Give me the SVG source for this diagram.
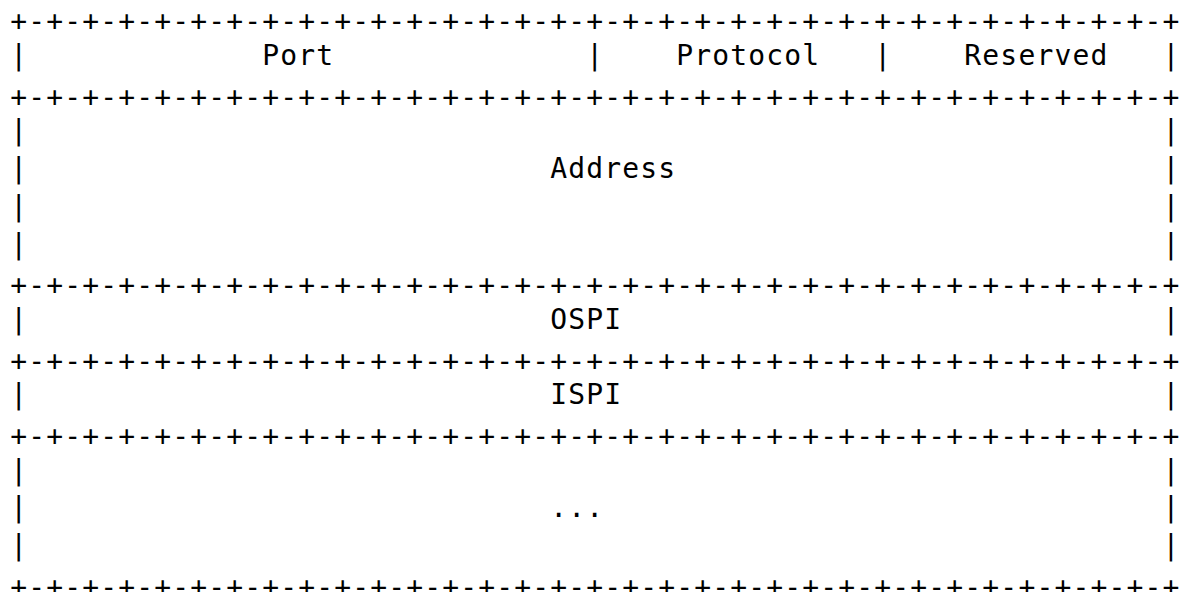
<svg xmlns="http://www.w3.org/2000/svg" width="1182" height="592" viewBox="0 0 1182 592">
<style>
text{font-family:"DejaVu Sans Mono","Liberation Mono",monospace;font-size:28px;letter-spacing:1.144px;fill:#000;white-space:pre}
</style>
<rect width="1182" height="592" fill="#fff"/>
<g id="connectors">
<text x="10.3" y="31.3" xml:space="preserve">+-+-+-+-+-+-+-+-+-+-+-+-+-+-+-+-+-+-+-+-+-+-+-+-+-+-+-+-+-+-+-+-+</text>
<text x="10.3" y="106.7" xml:space="preserve">+-+-+-+-+-+-+-+-+-+-+-+-+-+-+-+-+-+-+-+-+-+-+-+-+-+-+-+-+-+-+-+-+</text>
<text x="10.3" y="295.2" xml:space="preserve">+-+-+-+-+-+-+-+-+-+-+-+-+-+-+-+-+-+-+-+-+-+-+-+-+-+-+-+-+-+-+-+-+</text>
<text x="10.3" y="370.6" xml:space="preserve">+-+-+-+-+-+-+-+-+-+-+-+-+-+-+-+-+-+-+-+-+-+-+-+-+-+-+-+-+-+-+-+-+</text>
<text x="10.3" y="446" xml:space="preserve">+-+-+-+-+-+-+-+-+-+-+-+-+-+-+-+-+-+-+-+-+-+-+-+-+-+-+-+-+-+-+-+-+</text>
<text x="10.3" y="596.8" xml:space="preserve">+-+-+-+-+-+-+-+-+-+-+-+-+-+-+-+-+-+-+-+-+-+-+-+-+-+-+-+-+-+-+-+-+</text>
</g>
<g id="row-port">
<text x="10.3" y="65" xml:space="preserve">|             Port              |    Protocol   |    Reserved   |</text>
</g>
<g id="address">
<text x="10.3" y="140.4" xml:space="preserve">|                                                               |</text>
<text x="10.3" y="178.1" xml:space="preserve">|                             Address                           |</text>
<text x="10.3" y="215.8" xml:space="preserve">|                                                               |</text>
<text x="10.3" y="253.5" xml:space="preserve">|                                                               |</text>
</g>
<g id="ospi">
<text x="10.3" y="328.9" xml:space="preserve">|                             OSPI                              |</text>
</g>
<g id="ispi">
<text x="10.3" y="404.3" xml:space="preserve">|                             ISPI                              |</text>
</g>
<g id="ellipsis">
<text x="10.3" y="479.7" xml:space="preserve">|                                                               |</text>
<text x="10.3" y="517.4" xml:space="preserve">|                             ...                               |</text>
<text x="10.3" y="555.1" xml:space="preserve">|                                                               |</text>
</g>
</svg>
